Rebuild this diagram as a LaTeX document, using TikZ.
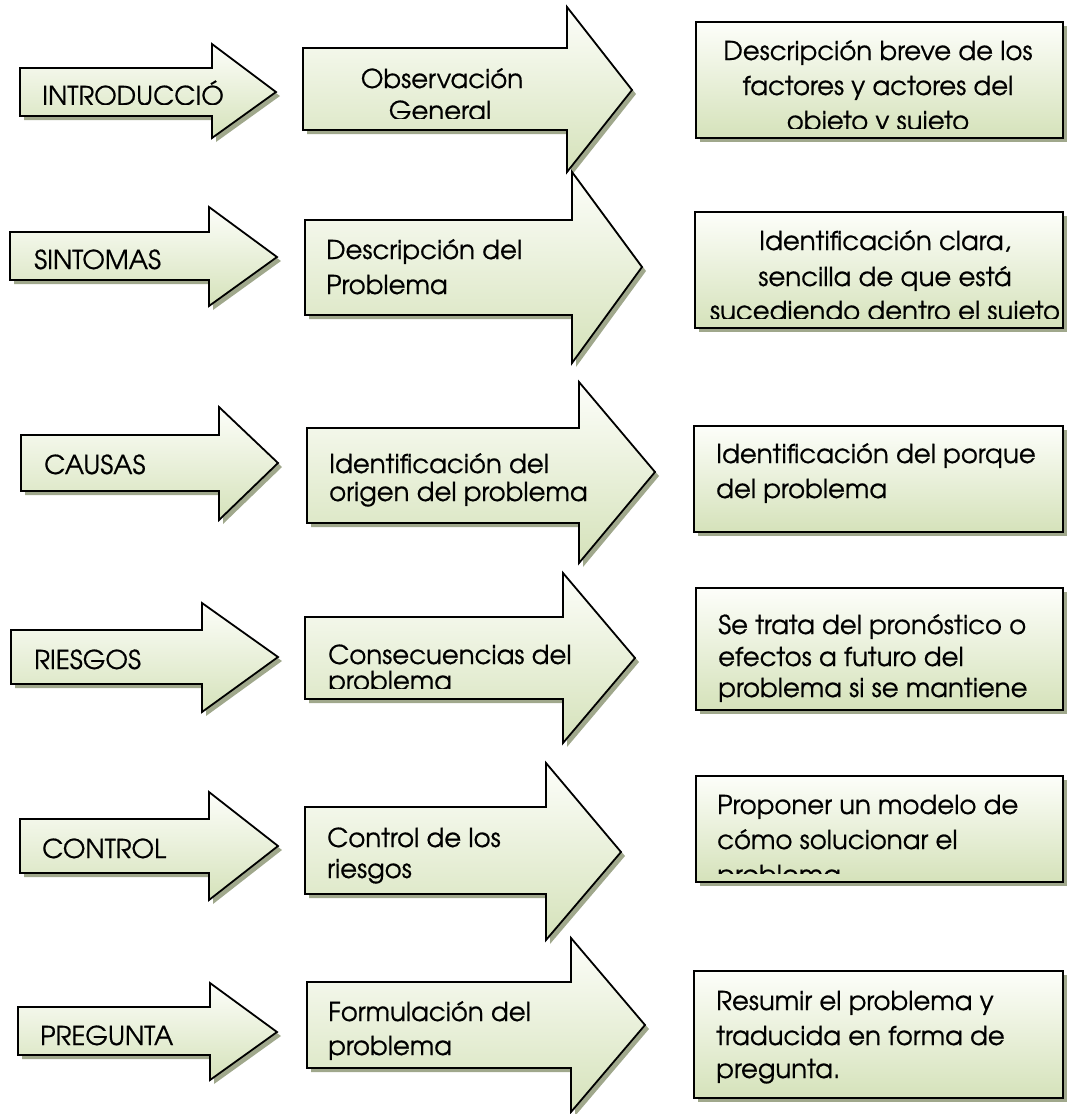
\documentclass[tikz,border=0pt]{standalone}
\usepackage{fontspec}
\setmainfont[FakeBold=0.6]{TeX Gyre Adventor}
\definecolor{shadowc}{RGB}{160,168,140}
\definecolor{topc}{RGB}{253,254,250}
\definecolor{botc}{RGB}{213,226,186}
\tikzset{
  outl/.style={draw=black, line width=1.8pt, line join=miter},
  txt/.style={inner sep=0pt, font=\fontsize{26}{26}\selectfont},
}
\newcommand{\Arr}[8]{%
  \fill[shadowc] (#1+4,#2+4) -- (#4+4,#2+4) -- (#4+4,#5+4) -- (#7+4,#8+4) -- (#4+4,#6+4) -- (#4+4,#3+4) -- (#1+4,#3+4) -- cycle;
  \shade[top color=topc,bottom color=botc] (#1,#2) -- (#4,#2) -- (#4,#5) -- (#7,#8) -- (#4,#6) -- (#4,#3) -- (#1,#3) -- cycle;
  \draw[outl] (#1,#2) -- (#4,#2) -- (#4,#5) -- (#7,#8) -- (#4,#6) -- (#4,#3) -- (#1,#3) -- cycle;}
\newcommand{\Panel}[4]{%
  \fill[shadowc] (#1+4,#2+4) rectangle (#3+4,#4+4);
  \shade[top color=topc,bottom color=botc] (#1,#2) rectangle (#3,#4);
  \draw[outl] (#1,#2) rectangle (#3,#4);}
\begin{document}
\begin{tikzpicture}[x=1pt,y=-1pt]
\useasboundingbox (0,0) rectangle (1069,1114);
% small arrows
\Arr{20}{68}{116}{212}{44}{138}{276}{92}
\Arr{10}{232}{280}{209}{207}{306}{277}{257}
\Arr{21}{435}{491}{219}{407}{520}{278}{463}
\Arr{11}{630}{684}{202}{603}{712}{278}{657}
\Arr{20}{819}{873}{209}{792}{900}{278}{846}
\Arr{18}{1007}{1055}{210}{983}{1080}{277}{1032}
% big arrows
\Arr{303}{48}{130}{567}{7}{172}{632}{90}
\Arr{305}{220}{315}{572}{172}{363}{642}{267}
\Arr{307}{428}{523}{579}{382}{563}{655}{472}
\Arr{305}{617}{699}{563}{573}{743}{635}{658}
\Arr{305}{807}{894}{546}{763}{940}{621}{852}
\Arr{307}{982}{1068}{571}{938}{1112}{645}{1025}
% panels
\Panel{696}{22}{1063}{138}
\Panel{695}{212}{1063}{328}
\Panel{694}{426}{1063}{532}
\Panel{696}{588}{1063}{710}
\Panel{696}{776}{1063}{882}
\Panel{694}{971}{1063}{1098}
% small arrow labels
\begin{scope}
\clip (0,0) rectangle (300,104);
\node[txt,anchor=base west] (l1) at (42,105) {INTRODUCCIÓ};
\end{scope}
\node[txt,anchor=base west] (l2) at (34,269) {SINTOMAS};
\node[txt,anchor=base west] (l3) at (44,474) {CAUSAS};
\node[txt,anchor=base west] (l4) at (34,669) {RIESGOS};
\node[txt,anchor=base west] (l5) at (42,858) {CONTROL};
\node[txt,anchor=base west] (l6) at (40,1045) {PREGUNTA};
% big arrow labels
\node[txt,anchor=base] (m1a) at (442,88) {Observación};
\begin{scope}
\clip (300,0) rectangle (600,118);
\node[txt,anchor=base] (m1b) at (440,120) {General};
\end{scope}
\node[txt,anchor=base west] (m2a) at (326,259) {Descripción del};
\node[txt,anchor=base west] (m2b) at (326,294) {Problema};
\node[txt,anchor=base west] (m3a) at (329,473) {Identificación del};
\node[txt,anchor=base west] (m3b) at (329,501) {origen del problema};
\node[txt,anchor=base west] (m4a) at (328,664) {Consecuencias del};
\begin{scope}
\clip (300,600) rectangle (600,688);
\node[txt,anchor=base west] (m4b) at (328,690) {problema};
\end{scope}
\node[txt,anchor=base west] (m5a) at (327,847) {Control de los};
\begin{scope}
\clip (300,800) rectangle (600,885);
\node[txt,anchor=base west] (m5b) at (327,878) {riesgos};
\end{scope}
\node[txt,anchor=base west] (m6a) at (328,1021) {Formulación del};
\node[txt,anchor=base west] (m6b) at (328,1055) {problema};
% panel texts
\node[txt,anchor=base] (p1a) at (878,60) {Descripción breve de los};
\node[txt,anchor=base] (p1b) at (878,95) {factores y actores del};
\begin{scope}
\clip (700,0) rectangle (1060,128);
\node[txt,anchor=base] (p1c) at (878,130) {objeto y sujeto};
\end{scope}
\node[txt,anchor=base] (p2a) at (885,250) {Identificación clara,};
\node[txt,anchor=base] (p2b) at (885,286) {sencilla de que está};
\begin{scope}
\clip (700,200) rectangle (1060,318);
\node[txt,anchor=base] (p2c) at (885,320) {sucediendo dentro el sujeto};
\end{scope}
\node[txt,anchor=base west] (p3a) at (716,463) {Identificación del porque};
\node[txt,anchor=base west] (p3b) at (716,498) {del problema};
\node[txt,anchor=base west] (p4a) at (718,634) {Se trata del pronóstico o};
\node[txt,anchor=base west] (p4b) at (718,666) {efectos a futuro del};
\node[txt,anchor=base west] (p4c) at (718,697) {problema si se mantiene};
\node[txt,anchor=base west] (p5a) at (717,814) {Proponer un modelo de};
\node[txt,anchor=base west] (p5b) at (717,849) {cómo solucionar el};
\begin{scope}
\clip (700,780) rectangle (1060,873);
\node[txt,anchor=base west] (p5c) at (717,884) {problema};
\end{scope}
\node[txt,anchor=base west] (p6a) at (716,1010) {Resumir el problema y};
\node[txt,anchor=base west] (p6b) at (716,1045) {traducida en forma de};
\node[txt,anchor=base west] (p6c) at (716,1078) {pregunta.};
\end{tikzpicture}
\end{document}
